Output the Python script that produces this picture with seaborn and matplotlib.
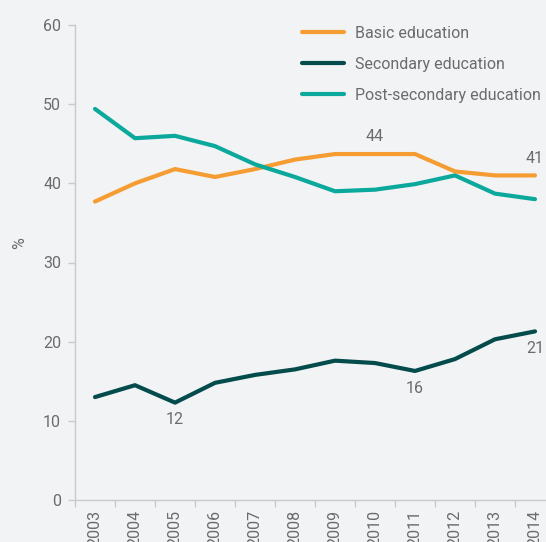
import matplotlib
matplotlib.use("Agg")
import matplotlib.pyplot as plt
import seaborn as sns
import pandas as pd
from matplotlib.ticker import FixedLocator

years = [2003, 2004, 2005, 2006, 2007, 2008, 2009, 2010, 2011, 2012, 2013, 2014]
basic = [37.7, 40.0, 41.8, 40.8, 41.8, 43.0, 43.7, 43.7, 43.7, 41.5, 41.0, 41.0]
secondary = [13.0, 14.5, 12.3, 14.8, 15.8, 16.5, 17.6, 17.3, 16.3, 17.8, 20.3, 21.3]
post_secondary = [49.4, 45.7, 46.0, 44.7, 42.4, 40.8, 39.0, 39.2, 39.9, 41.0, 38.7, 38.0]
series_names = ["Basic education", "Secondary education", "Post-secondary education"]
colors = ["#f59d33", "#044c4c", "#0ba99c"]
annotations = [(2010, 43.7, "44", "above"), (2014, 41.0, "41", "above"),
               (2005, 12.3, "12", "below"), (2011, 16.3, "16", "below"),
               (2014, 21.3, "21", "below")]

bg = "#f2f3f5"
txt = "#6b6b6b"
grid_c = "#c9cacc"
fs = 11.5

sns.set_theme(style="white")
plt.rcParams["font.family"] = ["Roboto", "DejaVu Sans"]

df = pd.DataFrame({
    "year": years * 3,
    "value": basic + secondary + post_secondary,
    "series": [series_names[0]] * 12 + [series_names[1]] * 12 + [series_names[2]] * 12,
})

fig = plt.figure(figsize=(5.46, 5.42), dpi=100, facecolor=bg)
ax = fig.add_axes([75 / 546, 1 - 500 / 542, 480 / 546, 475 / 542])
ax.set_facecolor(bg)

sns.lineplot(data=df, x="year", y="value", hue="series", palette=colors,
             hue_order=series_names, linewidth=3, ax=ax, legend=True)

ax.set_xlim(2002.5, 2014.5)
ax.set_ylim(0, 60)
ax.set_yticks([0, 10, 20, 30, 40, 50, 60])
ax.set_xticks(years)
ax.set_xticklabels([str(y) for y in years], rotation=90)
ax.xaxis.set_minor_locator(FixedLocator([y - 0.5 for y in years]))
ax.tick_params(axis="x", which="major", length=0, pad=7, labelsize=fs, labelcolor=txt)
ax.tick_params(axis="x", which="minor", length=5, width=1, color=grid_c, bottom=True)
ax.tick_params(axis="y", length=5, width=1, color=grid_c, labelsize=fs, labelcolor=txt, pad=5, left=True)
ax.set_xlabel("")
ax.set_ylabel("")
for s in ["top", "right"]:
    ax.spines[s].set_visible(False)
for s in ["left", "bottom"]:
    ax.spines[s].set_color(grid_c)
    ax.spines[s].set_linewidth(1)

for x, y, t, pos in annotations:
    off = 7 if pos == "above" else -7
    ax.annotate(t, (x, y), xytext=(0, off), textcoords="offset points",
                ha="center", va="bottom" if pos == "above" else "top",
                fontsize=fs, color=txt)

leg = ax.legend(loc="upper left", bbox_to_anchor=((302 - 75) / 480, 1.0 - 1 / 475), frameon=False,
                fontsize=fs, handlelength=2.6, handletextpad=0.7, labelspacing=1.0,
                borderaxespad=0, borderpad=0)
for t in leg.get_texts():
    t.set_color(txt)
for h in leg.get_lines():
    h.set_linewidth(3)

fig.text(20 / 546, 1 - 243 / 542, "%", rotation=90, ha="center", va="center",
         fontsize=fs, color=txt)

fig.savefig("out.png", dpi=100, facecolor=bg)
